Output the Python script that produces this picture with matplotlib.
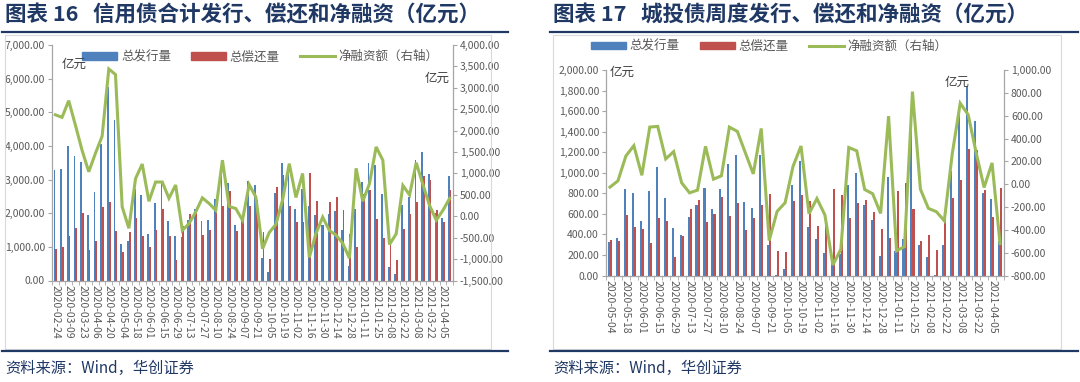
import numpy as np
import pandas as pd
import matplotlib
matplotlib.use("Agg")
import matplotlib.pyplot as plt
from matplotlib.lines import Line2D
from matplotlib.patches import Patch, Rectangle
from matplotlib.ticker import FuncFormatter, MultipleLocator

plt.rcParams['font.family'] = ['Noto Sans CJK SC', 'DejaVu Sans']

# 图表16：信用债合计（周度，亿元）
credit_dates = pd.date_range('2020-02-24', periods=60, freq='7D').strftime('%Y-%m-%d').tolist()
credit_issue = [3290, 3310, 4010, 3710, 3530, 1950, 2620, 4050, 5760, 4780,
                1080, 1180, 2730, 2550, 1370, 2300, 2930, 1770, 1330, 1290,
                1800, 2140, 1780, 1800, 2420, 3530, 2900, 1650, 1800, 2960,
                2850, 680, 260, 2610, 3500, 3440, 2140, 2720, 2220, 1940,
                1650, 1990, 2060, 1490, 430, 2130, 2930, 3490, 3430, 2570,
                410, 200, 2240, 2490, 3580, 3810, 3180, 2010, 1870, 3110]
credit_repay = [940, 1000, 1320, 1570, 2000, 910, 1160, 2170, 2340, 1470,
                840, 1440, 1850, 1330, 1010, 1500, 2140, 1330, 600, 1620,
                1970, 2040, 1350, 1500, 2280, 2220, 2660, 1460, 1890, 2220,
                2400, 1430, 640, 2790, 3140, 2210, 1730, 1750, 3210, 2370,
                1650, 2330, 2470, 2100, 1390, 1010, 2580, 2700, 1820, 1250,
                1050, 610, 1520, 1980, 2330, 3110, 2980, 2090, 1730, 2680]
credit_net = [2370, 2310, 2700, 2130, 1540, 1040, 1470, 1870, 3440, 3310,
              220, -280, 880, 1220, 350, 800, 800, 420, 730, -330,
              -170, 100, 430, 300, 140, 1310, 230, 180, -90, 740,
              450, -760, -380, -190, 380, 1230, 440, 1000, -960, -400,
              -20, -330, -440, -630, -980, 1120, 350, 760, 1620, 1310,
              -660, -410, 720, 500, 1250, 740, 250, -90, 140, 420]

# 图表17：城投债（周度，亿元）
lgfv_dates = pd.date_range('2020-05-04', periods=50, freq='7D').strftime('%Y-%m-%d').tolist()
lgfv_issue = [323, 365, 839, 806, 527, 819, 1056, 757, 466, 394,
              569, 683, 855, 651, 842, 1082, 1173, 718, 654, 1173,
              297, 4, 66, 877, 1114, 469, 359, 219, 134, 209,
              877, 998, 686, 540, 190, 958, 238, 352, 1458, 297,
              177, 3, 294, 1017, 1643, 1845, 1507, 806, 745, 335]
lgfv_repay = [345, 336, 592, 472, 449, 320, 556, 534, 180, 384,
              644, 735, 525, 599, 764, 579, 702, 443, 560, 683,
              794, 242, 232, 728, 784, 728, 485, 489, 842, 780,
              556, 706, 738, 621, 449, 365, 825, 896, 646, 336,
              394, 248, 614, 750, 934, 1234, 1218, 832, 566, 855]
lgfv_net = [-26, 29, 247, 337, 78, 500, 506, 221, 285, 12,
            -76, -52, 331, 44, 73, 500, 462, 276, 90, 488,
            -494, -238, -163, 157, 334, -259, -126, -270, -708, -571,
            321, 292, -47, -84, -256, 596, -584, -547, 811, -44,
            -212, -241, -320, 267, 709, 608, 276, -29, 186, -520]

BLUE = '#4F81BD'
RED = '#C0504D'
GREEN = '#9BBB59'
NAVY = '#1F3864'
GREY = '#595959'
AXC = '#A6A6A6'

W, H = 1080, 382
fig = plt.figure(figsize=(W / 100, H / 100), dpi=100)


def fx(px):
    return px / W


def fy(py):
    return 1 - py / H


fmt = FuncFormatter(lambda v, p: f'{v:,.2f}')


def draw_panel(rect, dates, issue, repay, net, ylim, ystep, rlim, rstep,
               legend_pos, unit_left, unit_right):
    ax = fig.add_axes(rect)
    n = len(dates)
    x = np.arange(n)
    w = 0.26
    ax.bar(x - w / 2, issue, width=w, color=BLUE, zorder=2)
    ax.bar(x + w / 2, repay, width=w, color=RED, zorder=2)
    ax.set_xlim(-0.5, n - 0.5)
    ax.set_ylim(*ylim)
    ax.yaxis.set_major_locator(MultipleLocator(ystep))
    ax.yaxis.set_major_formatter(fmt)

    axr = ax.twinx()
    axr.plot(x, net, color=GREEN, lw=2.2, solid_joinstyle='miter', zorder=3)
    axr.set_ylim(*rlim)
    axr.yaxis.set_major_locator(MultipleLocator(rstep))
    axr.yaxis.set_major_formatter(fmt)

    for a in (ax, axr):
        a.spines['top'].set_visible(False)
        for s in ('left', 'right', 'bottom'):
            a.spines[s].set_color(AXC)
            a.spines[s].set_linewidth(0.9)
        a.tick_params(axis='y', labelsize=7.5, labelcolor=GREY, color=AXC,
                      length=3, pad=2)
    ax.spines['right'].set_visible(False)
    axr.spines['left'].set_visible(False)
    axr.spines['bottom'].set_visible(False)

    ax.set_xticks(x[::2])
    ax.set_xticklabels(dates[::2], rotation=-90, fontsize=7.5, color=GREY)
    ax.tick_params(axis='x', length=0, pad=3)
    ax.set_xticks(np.arange(-0.5, n, 1), minor=True)
    ax.tick_params(axis='x', which='minor', length=3, color=AXC)

    handles = [Patch(color=BLUE, label='总发行量'),
               Patch(color=RED, label='总偿还量'),
               Line2D([0], [0], color=GREEN, lw=2.2, label='净融资额（右轴）')]
    axr.legend(handles=handles, loc='center', bbox_to_anchor=legend_pos,
               ncol=3, frameon=False, fontsize=9, labelcolor=GREY,
               handlelength=2.8, handleheight=0.55, columnspacing=1.6,
               handletextpad=0.3)
    fig.text(fx(unit_left[0]), fy(unit_left[1]), '亿元', fontsize=9,
             color='#404040', va='center')
    fig.text(fx(unit_right[0]), fy(unit_right[1]), '亿元', fontsize=9,
             color='#404040', va='center')
    return ax


# 左图
draw_panel([fx(52), fy(280.5), fx(453) - fx(52), fy(45) - fy(280.5)],
           credit_dates, credit_issue, credit_repay, credit_net,
           (0, 7000), 1000, (-1500, 4000), 500,
           (0.52, 0.95), (62, 64), (425, 78))

# 右图
draw_panel([fx(606), fy(275.5), fx(1004) - fx(606), fy(70) - fy(275.5)],
           lgfv_dates, lgfv_issue, lgfv_repay, lgfv_net,
           (0, 2000), 200, (-800, 1000), 200,
           (0.41, 1.115), (610, 72), (945, 82))

# 标题、边框与来源
panels = [(2, 508, '图表 16   信用债合计发行、偿还和净融资（亿元）'),
          (550, 1078, '图表 17   城投债周度发行、偿还和净融资（亿元）')]
for x0, x1, title in panels:
    fig.text(fx(x0 + 3), fy(15), title, fontsize=15.5, fontweight='bold',
             color=NAVY, va='center')
    fig.add_artist(Line2D([fx(x0), fx(x1)], [fy(32), fy(32)], color=NAVY, lw=1.6))
    fig.add_artist(Line2D([fx(x0), fx(x1)], [fy(351), fy(351)], color=NAVY, lw=1.6))
    fig.add_artist(Rectangle((fx(x0 + 3), fy(349)), fx(x1 - x0 - 20), fy(35) - fy(349),
                             fill=False, edgecolor='#D9D9D9', lw=0.8))
    fig.text(fx(x0 + 3), fy(368), '资料来源：Wind，华创证券', fontsize=11,
             color=NAVY, va='center', style='italic')

fig.savefig('out.png', dpi=100)
